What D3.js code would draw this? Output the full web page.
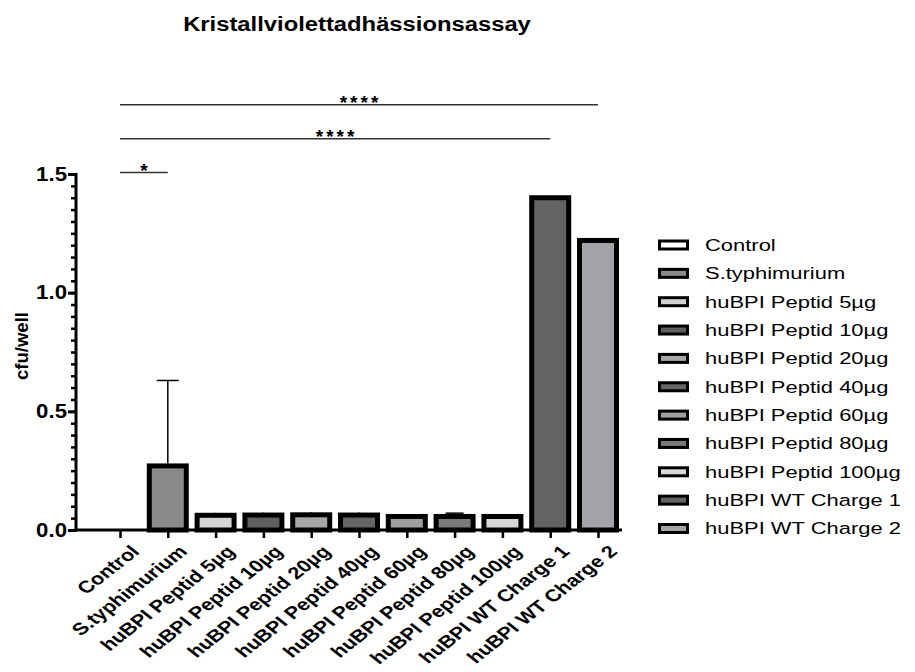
<!DOCTYPE html>
<html>
<head>
<meta charset="utf-8">
<script src="https://cdn.jsdelivr.net/npm/d3@7"></script>
<style>
    body { margin: 0; background: #fff; }
    svg text { font-family: "Liberation Sans", Arial, sans-serif; }
</style>
</head>
<body>
<div id="chart"></div>
<script>
// data
const categories = ["Control", "S.typhimurium", "huBPI Peptid 5µg", "huBPI Peptid 10µg", "huBPI Peptid 20µg",
    "huBPI Peptid 40µg", "huBPI Peptid 60µg", "huBPI Peptid 80µg", "huBPI Peptid 100µg",
    "huBPI WT Charge 1", "huBPI WT Charge 2"]
const means = [0, 0.27, 0.062, 0.063, 0.064, 0.063, 0.057, 0.057, 0.057, 1.40, 1.22]
const errors = [0, 0.36, 0.005, 0.004, 0.004, 0.004, 0.004, 0.014, 0.004, 0, 0]
const fills = ["#ffffff", "#8a8a8a", "#d4d4d4", "#5f5f5f", "#a6a6a6", "#666666", "#a0a0a0", "#7a7a7a",
    "#d8d8d8", "#636363", "#a3a3a7"]
const yTicks = [0, 0.5, 1.0, 1.5]
// significance brackets: [from category, to category, height, label]
const brackets = [
    ["Control", "huBPI WT Charge 2", 1.792, "****"],
    ["Control", "huBPI WT Charge 1", 1.648, "****"],
    ["Control", "S.typhimurium", 1.506, "*"],
]

//dimensions
let dimensions = {
    width: 915,
    height: 672,
    margin: {top: 174, right: 293, bottom: 142, left: 76},
}

//canvas
const svg = d3.select("#chart")
    .append("svg")
    .attr("width", dimensions.width)
    .attr("height", dimensions.height)

const plotBottom = dimensions.height - dimensions.margin.bottom
const plotRight = dimensions.width - dimensions.margin.right

// the text in the picture is wider than it is tall, so stretch it sideways
function stretch(selection, s) {
    selection.each(function () {
        const t = d3.select(this)
        const x = +t.attr("x") || 0
        const y = +t.attr("y") || 0
        t.attr("x", 0).attr("y", 0)
            .attr("transform", "translate(" + x + "," + y + ") scale(" + s + ",1)")
    })
}

//scales
const xScale = d3.scalePoint()
    .domain(categories)
    .range([dimensions.margin.left + 44, plotRight - 24])
const yScale = d3.scaleLinear()
    .domain([0, 1.5])
    .range([plotBottom, dimensions.margin.top])
const barWidth = 37

// title
svg.append("text")
    .attr("x", 357)
    .attr("y", 31)
    .attr("text-anchor", "middle")
    .attr("font-size", 20)
    .attr("font-weight", "bold")
    .text("Kristallviolettadhässionsassay")
    .call(stretch, 1.19)

// bars
const bars = svg.append("g")
bars.selectAll("rect")
    .data(categories)
    .join("rect")
    .attr("x", d => xScale(d) - barWidth / 2)
    .attr("y", (d, i) => yScale(means[i]))
    .attr("width", barWidth)
    .attr("height", (d, i) => plotBottom - yScale(means[i]))
    .attr("fill", (d, i) => fills[i])
    .attr("stroke", "#000")
    .attr("stroke-width", 5)
    .attr("display", (d, i) => means[i] > 0 ? null : "none")

// error bars (upper only)
const errs = svg.append("g").attr("stroke", "#000").attr("stroke-width", 1.5)
categories.forEach((c, i) => {
    if (errors[i] <= 0) return
    const x = xScale(c)
    const top = yScale(means[i] + errors[i])
    const capW = i === 1 ? 11 : 9
    errs.append("line")
        .attr("x1", x).attr("x2", x)
        .attr("y1", yScale(means[i]) - 2.5).attr("y2", top)
    errs.append("line")
        .attr("x1", x - capW).attr("x2", x + capW)
        .attr("y1", top).attr("y2", top)
})

// y axis
const yAxis = svg.append("g")
    .attr("transform", "translate(" + dimensions.margin.left + ",0)")
    .call(d3.axisLeft(yScale).tickValues(d3.range(0, 1.5001, 0.05)).tickSize(5).tickFormat(""))
yAxis.select(".domain").remove()
yAxis.selectAll("line").attr("stroke", "#000").attr("stroke-width", 2.5)
const yMajor = svg.append("g")
    .attr("transform", "translate(" + dimensions.margin.left + ",0)")
    .call(d3.axisLeft(yScale).tickValues(yTicks).tickSize(8).tickPadding(1).tickFormat(d3.format(".1f")))
yMajor.select(".domain").attr("stroke-width", 3).attr("d", "M0," + (yScale(1.5) - 1) + "V" + (plotBottom + 1.5))
yMajor.selectAll("line").attr("stroke-width", 3)
yMajor.selectAll("text")
    .attr("font-size", 19.5)
    .attr("font-weight", "bold")
    .attr("font-family", "Liberation Sans, Arial, sans-serif")
    .attr("fill", "#000")
    .call(stretch, 1.14)

svg.append("text")
    .attr("transform", "translate(28,346) rotate(-90)")
    .attr("text-anchor", "middle")
    .attr("font-size", 18.5)
    .attr("font-weight", "bold")
    .text("cfu/well")

// x axis
const xAxis = svg.append("g")
    .attr("transform", "translate(0," + plotBottom + ")")
    .call(d3.axisBottom(xScale).tickSize(8).tickSizeOuter(0))
xAxis.select(".domain").attr("stroke-width", 3).attr("d", "M" + (dimensions.margin.left - 1.5) + ",0H" + plotRight)
xAxis.selectAll("line").attr("stroke-width", 2.5)
xAxis.selectAll("text")
    .attr("font-size", 17)
    .attr("font-weight", "bold")
    .attr("font-family", "Liberation Sans, Arial, sans-serif")
    .attr("fill", "#000")
    .attr("text-anchor", "end")
    .attr("x", 0)
    .attr("y", 0)
    .attr("dy", "0.72em")
    .attr("transform", "translate(9,14) scale(1.28,1) rotate(-45)")

// significance brackets
const sig = svg.append("g")
brackets.forEach(b => {
    const x1 = xScale(b[0])
    const x2 = xScale(b[1])
    const y = yScale(b[2])
    sig.append("line")
        .attr("x1", x1).attr("x2", x2)
        .attr("y1", y).attr("y2", y)
        .attr("stroke", "#333")
        .attr("stroke-width", 1.5)
    sig.append("text")
        .attr("x", (x1 + x2) / 2 + 1.5)
        .attr("y", y + 4)
        .attr("text-anchor", "middle")
        .attr("font-size", 19)
        .attr("font-weight", "bold")
        .attr("letter-spacing", 3)
        .text(b[3])
})

// legend
const legend = svg.append("g").attr("transform", "translate(658,245)")
const legendRows = legend.selectAll("g")
    .data(categories)
    .join("g")
    .attr("transform", (d, i) => "translate(0," + i * 28.35 + ")")
legendRows.append("rect")
    .attr("x", 1.5)
    .attr("y", -4)
    .attr("width", 28)
    .attr("height", 8)
    .attr("fill", (d, i) => fills[i])
    .attr("stroke", "#000")
    .attr("stroke-width", 3)
legendRows.append("text")
    .attr("x", 47)
    .attr("y", 0)
    .attr("dy", "0.36em")
    .attr("font-size", 16.5)
    .text(d => d)
    .call(stretch, 1.33)
</script>
</body>
</html>
